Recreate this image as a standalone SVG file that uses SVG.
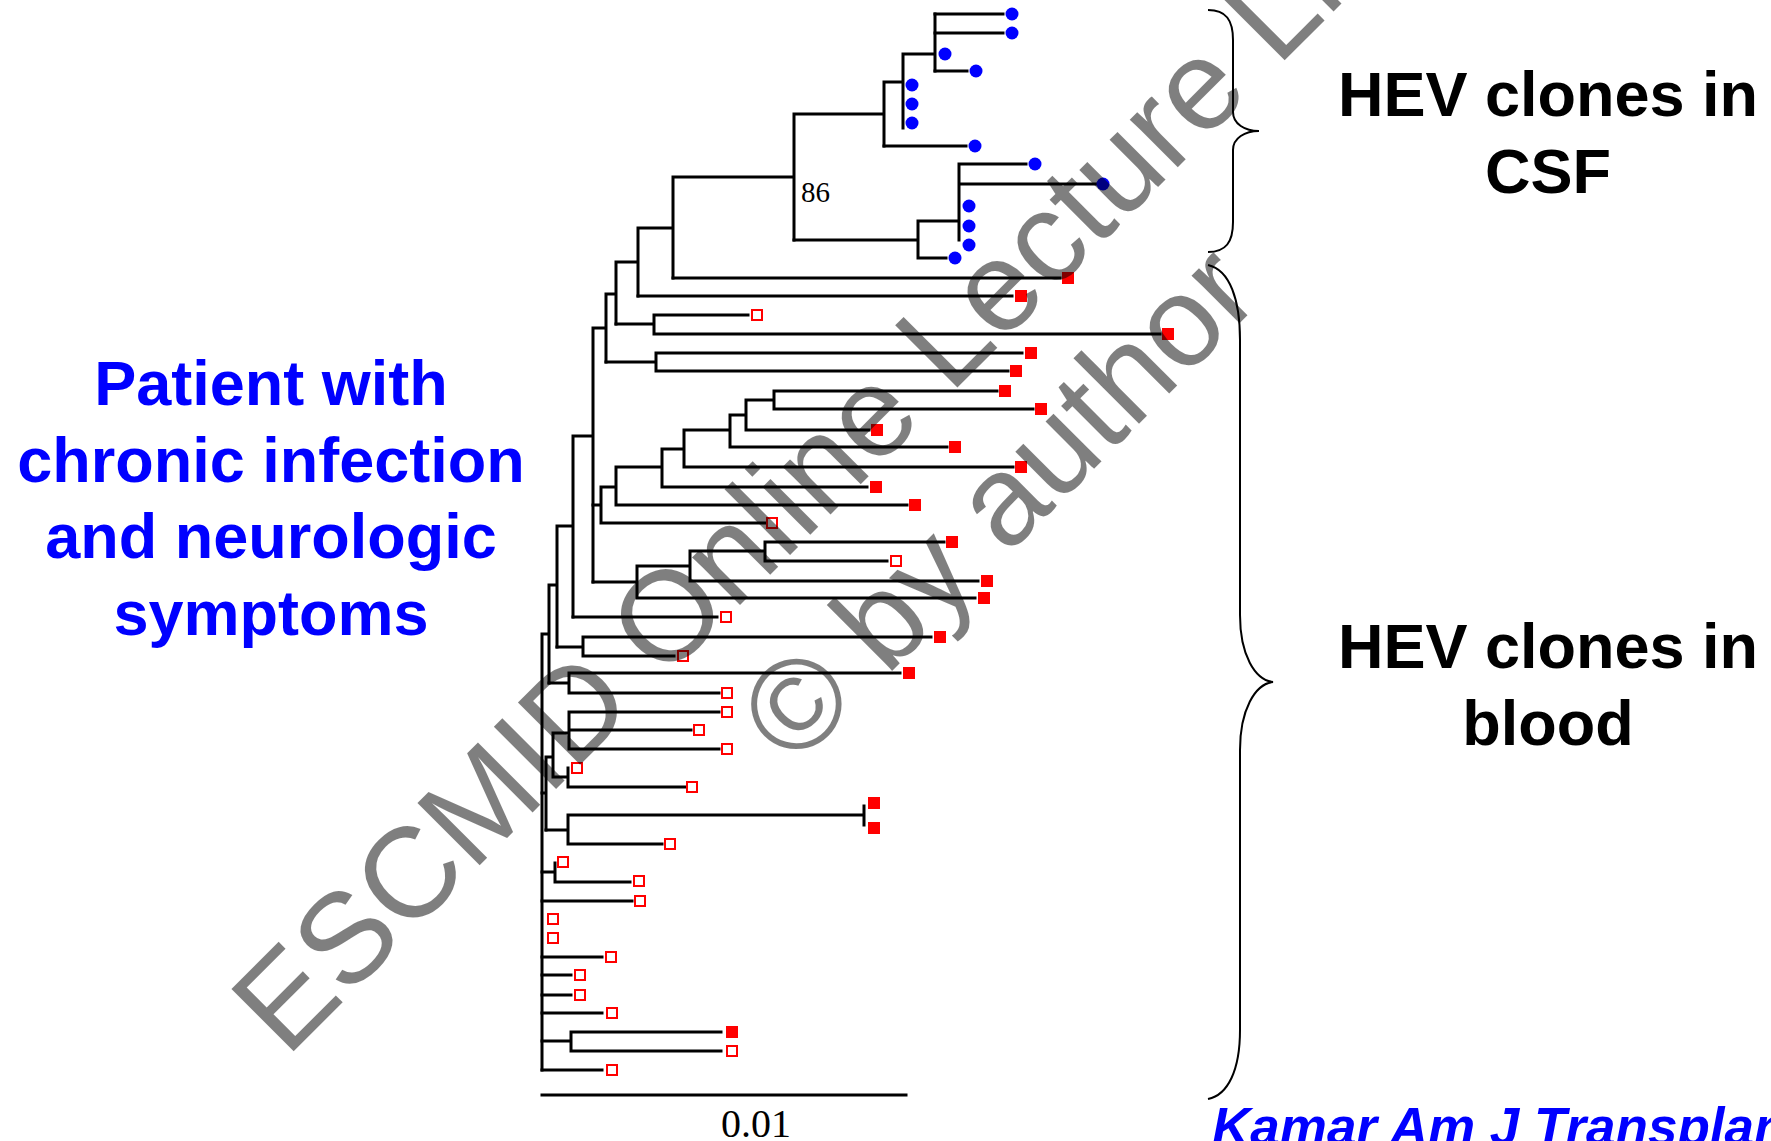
<svg xmlns="http://www.w3.org/2000/svg" xmlns:xlink="http://www.w3.org/1999/xlink" width="1771" height="1141" viewBox="0 0 1771 1141">
<style>
.br{fill:none;stroke:#000;stroke-width:3;stroke-linecap:square;stroke-linejoin:miter}
.brace{fill:none;stroke:#000;stroke-width:2}
.lbl{font-family:"Liberation Sans",Arial,sans-serif;font-weight:bold;font-size:63px;text-anchor:middle}
.num{font-family:"Liberation Serif","Times New Roman",serif;fill:#000}
.wm{font-family:"Liberation Sans",Arial,sans-serif;font-size:128px;text-anchor:middle;fill:#000;fill-opacity:0.5}
</style>
<defs>
<rect id="sq" x="-6" y="-6" width="12" height="12" fill="#f00"/>
<rect id="osq" x="-5" y="-5" width="10" height="10" fill="#fff" stroke="#f00" stroke-width="2"/>
<circle id="dot" r="6.5" fill="#00f"/>
</defs>
<rect width="1771" height="1141" fill="#fff"/>
<g id="connectors" class="br">
<path d="M542,634V1070 M542,634H549 M549,585V683 M549,585H557 M557,526V647 M557,526H573 M573,436V617 M573,436H593 M593,328V582 M593,328H606 M606,294V362 M606,294H616 M616,262V324 M616,262H638 M638,228V296 M638,228H673 M673,177V278 M673,177H794 M794,114V240 M794,114H884 M884,82V146 M884,82H903 M903,54V128 M903,54H935 M935,14V71"/>
<path d="M935,14H1003 M935,33H1003 M935,71H967 M884,146H966"/>
<path d="M794,240H918 M918,221V258 M918,221H959 M959,164V240 M959,164H1026 M959,184H1096 M918,258H946"/>
<path d="M673,278H1060 M638,296H1012"/>
<path d="M616,324H654 M654,315V334 M654,315H748 M654,334H1160"/>
<path d="M606,362H656 M656,353V371 M656,353H1022 M656,371H1008"/>
<path d="M593,505H601 M601,487V523 M601,487H616 M616,467V505 M616,467H662 M662,449V487 M662,449H684 M684,430V467 M684,430H730 M730,415V447 M730,415H746 M746,400V430 M746,400H774 M774,391V409 M774,391H997 M774,409H1033 M746,430H869 M730,447H947 M684,467H1013 M662,487H867 M616,505H907 M601,523H765"/>
<path d="M593,582H637 M637,566V598 M637,566H690 M690,551V581 M690,551H765 M765,542V561 M765,542H944 M765,561H887 M690,581H978 M637,598H975"/>
<path d="M573,617H717"/>
<path d="M557,647H583 M583,637V656 M583,637H931 M583,656H674"/>
<path d="M549,683H569 M569,673V693 M569,673H900 M569,693H719"/>
<path d="M542,793H546 M546,757V830 M546,757H553 M553,733V777 M553,733H569 M569,712V749 M569,712H719 M569,730H691 M569,749H719 M553,777H568 M568,768V787 M568,787H685"/>
<path d="M546,830H568 M568,815V844 M568,815H864 M864,806V825 M568,844H662"/>
<path d="M542,872H555 M555,863V882 M555,882H630"/>
<path d="M542,901H632 M542,957H602 M542,975H571 M542,995H571 M542,1013H602 M542,1041H571 M571,1032V1051 M571,1032H721 M571,1051H721 M542,1070H602"/>
<path id="scalebar" d="M542,1095H906"/>
</g>
<g id="leaves">
<use id="c1" href="#dot" x="1012" y="14"/>
<use id="c2" href="#dot" x="1012" y="33"/>
<use id="c3" href="#dot" x="945" y="54"/>
<use id="c4" href="#dot" x="976" y="71"/>
<use id="c5" href="#dot" x="912" y="85"/>
<use id="c6" href="#dot" x="912" y="104"/>
<use id="c7" href="#dot" x="912" y="123"/>
<use id="c8" href="#dot" x="975" y="146"/>
<use id="c9" href="#dot" x="1035" y="164"/>
<use id="c10" href="#dot" x="1103" y="184"/>
<use id="c11" href="#dot" x="969" y="206"/>
<use id="c12" href="#dot" x="969" y="226"/>
<use id="c13" href="#dot" x="969" y="245"/>
<use id="c14" href="#dot" x="955" y="258"/>
<use id="b1" href="#sq" x="1068" y="278"/>
<use id="b2" href="#sq" x="1021" y="296"/>
<use id="b3" href="#osq" x="757" y="315"/>
<use id="b4" href="#sq" x="1168" y="334"/>
<use id="b5" href="#sq" x="1031" y="353"/>
<use id="b6" href="#sq" x="1016" y="371"/>
<use id="b7" href="#sq" x="1005" y="391"/>
<use id="b8" href="#sq" x="1041" y="409"/>
<use id="b9" href="#sq" x="877" y="430"/>
<use id="b10" href="#sq" x="955" y="447"/>
<use id="b11" href="#sq" x="1021" y="467"/>
<use id="b12" href="#sq" x="876" y="487"/>
<use id="b13" href="#sq" x="915" y="505"/>
<use id="b14" href="#osq" x="772" y="523"/>
<use id="b15" href="#sq" x="952" y="542"/>
<use id="b16" href="#osq" x="896" y="561"/>
<use id="b17" href="#sq" x="987" y="581"/>
<use id="b18" href="#sq" x="984" y="598"/>
<use id="b19" href="#osq" x="726" y="617"/>
<use id="b20" href="#sq" x="940" y="637"/>
<use id="b21" href="#osq" x="683" y="656"/>
<use id="b22" href="#sq" x="909" y="673"/>
<use id="b23" href="#osq" x="727" y="693"/>
<use id="b24" href="#osq" x="727" y="712"/>
<use id="b25" href="#osq" x="699" y="730"/>
<use id="b26" href="#osq" x="727" y="749"/>
<use id="b27" href="#osq" x="577" y="768"/>
<use id="b28" href="#osq" x="692" y="787"/>
<use id="b29" href="#sq" x="874" y="803"/>
<use id="b30" href="#sq" x="874" y="828"/>
<use id="b31" href="#osq" x="670" y="844"/>
<use id="b32" href="#osq" x="563" y="862"/>
<use id="b33" href="#osq" x="639" y="881"/>
<use id="b34" href="#osq" x="640" y="901"/>
<use id="b35" href="#osq" x="553" y="919"/>
<use id="b36" href="#osq" x="553" y="938"/>
<use id="b37" href="#osq" x="611" y="957"/>
<use id="b38" href="#osq" x="580" y="975"/>
<use id="b39" href="#osq" x="580" y="995"/>
<use id="b40" href="#osq" x="612" y="1013"/>
<use id="b41" href="#sq" x="732" y="1032"/>
<use id="b42" href="#osq" x="732" y="1051"/>
<use id="b43" href="#osq" x="612" y="1070"/>
</g>
<g id="bootstrap"><text class="num" x="801" y="202" font-size="29">86</text></g>
<g id="scale"><text class="num" x="756" y="1137" font-size="40" text-anchor="middle">0.01</text></g>
<g id="braces">
<path class="brace" d="M1208,10 C1226,10 1233,20 1233,40 L1233,112 C1233,124 1245,131 1259,131 C1245,131 1233,138 1233,150 L1233,222 C1233,242 1226,252 1208,252"/>
<path class="brace" d="M1208,265 C1230,270 1240,300 1240,340 L1240,615 C1240,655 1255,680 1273,682 C1255,684 1240,710 1240,750 L1240,1030 C1240,1070 1228,1095 1208,1099"/>
</g>
<g id="label-csf" class="lbl" fill="#000"><text x="1548" y="116">HEV clones in</text><text x="1548" y="193">CSF</text></g>
<g id="label-blood" class="lbl" fill="#000"><text x="1548" y="668">HEV clones in</text><text x="1548" y="745">blood</text></g>
<g id="label-patient" class="lbl" fill="#00f"><text x="271" y="405">Patient with</text><text x="271" y="482">chronic infection</text><text x="271" y="558">and neurologic</text><text x="271" y="635">symptoms</text></g>
<g id="citation"><text x="1212" y="1145" font-family="Liberation Sans, Arial, sans-serif" font-weight="bold" font-style="italic" font-size="53" fill="#00f">Kamar Am J Transplant</text></g>
<g id="watermark" transform="translate(920,425) rotate(-45)">
<text class="wm" x="0" y="0">ESCMID Online Lecture Library</text>
<text class="wm" x="0" y="154">© by author</text>
</g>
</svg>
